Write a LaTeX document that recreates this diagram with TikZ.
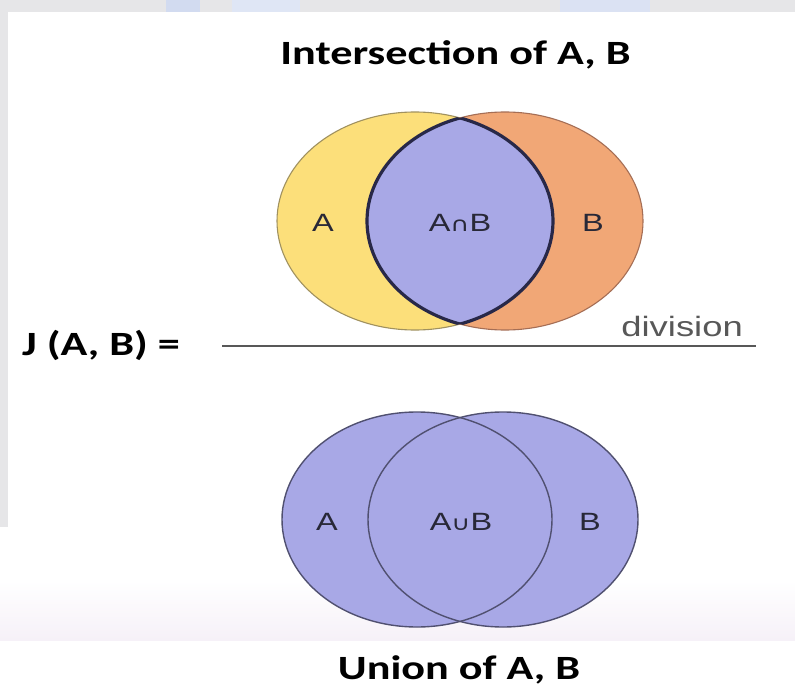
\documentclass[tikz,border=0pt]{standalone}
\usepackage{fontspec}
\setmainfont{Liberation Sans}
\newfontfamily\titlefont{Carlito}
\newfontfamily\symfont{DejaVu Sans}
\definecolor{margin}{RGB}{230,230,232}
\definecolor{wmblue}{RGB}{210,219,240}
\definecolor{bandc}{RGB}{246,241,248}
\definecolor{yel}{RGB}{252,223,122}
\definecolor{yelline}{RGB}{160,145,95}
\definecolor{ora}{RGB}{241,167,118}
\definecolor{oraline}{RGB}{165,110,85}
\definecolor{lav}{RGB}{168,168,230}
\definecolor{lensline}{RGB}{40,40,72}
\definecolor{uline}{RGB}{80,80,112}
\definecolor{lblc}{RGB}{40,40,55}
\definecolor{divc}{RGB}{88,88,88}
\tikzset{
  ttl/.style={font=\titlefont\bfseries\fontsize{34}{40}\selectfont, text=black, inner sep=0pt, anchor=base},
  lbl/.style={font=\fontsize{25}{29}\selectfont, text=lblc, inner sep=0pt, anchor=base},
  divtxt/.style={font=\fontsize{28}{32}\selectfont, text=divc, inner sep=0pt, anchor=base east},
}
\newcommand{\hs}[1]{\scalebox{1.3}[1]{#1}}
\begin{document}
\begin{tikzpicture}[x=1pt,y=-1pt]
\useasboundingbox (0,0) rectangle (795,687);
\fill[white] (0,0) rectangle (795,687);
% grey outer margin with faint watermark
\fill[margin] (0,0) rectangle (795,12);
\fill[margin] (0,0) rectangle (8,527);
\fill[wmblue] (166,0) rectangle (200,12);
\fill[wmblue!70] (232,0) rectangle (300,12);
\fill[wmblue!80] (560,0) rectangle (650,12);
% light band near the bottom
\shade[top color=white, bottom color=bandc] (0,580) rectangle (795,640);

% ---------- intersection ----------
\fill[yel] (415,221) ellipse [x radius=138, y radius=109];
\fill[ora] (505,221) ellipse [x radius=138, y radius=109];
\draw[yelline, line width=1.1pt] (415,221) ellipse [x radius=138, y radius=109];
\draw[oraline, line width=1.1pt] (505,221) ellipse [x radius=138, y radius=109];
\begin{scope}
  \clip (415,221) ellipse [x radius=138, y radius=109];
  \fill[lav] (505,221) ellipse [x radius=138, y radius=109];
  \draw[lensline, line width=3.2pt] (505,221) ellipse [x radius=138, y radius=109];
\end{scope}
\begin{scope}
  \clip (505,221) ellipse [x radius=138, y radius=109];
  \draw[lensline, line width=3.2pt] (415,221) ellipse [x radius=138, y radius=109];
\end{scope}
\node[lbl] (ia) at (323,232) {\hs{A}};
\node[lbl] (iab) at (460,232) {\hs{A{\symfont\fontsize{20}{23}\selectfont ∩}B}};
\node[lbl] (ib) at (593,232) {\hs{B}};

% ---------- fraction ----------
\node[ttl, anchor=base west] (jab) at (22,355) {\scalebox{1.3}[1]{J (A, B) =}};
\coordinate (l1) at (222,346);
\coordinate (l2) at (756,346);
\draw[divc, line width=2.6pt] (l1) -- (l2);
\node[divtxt] (div) at (743,336) {\scalebox{1.3}[1]{division}};

% ---------- union ----------
\fill[lav] (417,519.5) ellipse [x radius=135, y radius=107.5];
\fill[lav] (503,519.5) ellipse [x radius=135, y radius=107.5];
\draw[uline, line width=1.4pt] (417,519.5) ellipse [x radius=135, y radius=107.5];
\draw[uline, line width=1.4pt] (503,519.5) ellipse [x radius=135, y radius=107.5];
\node[lbl] (ua) at (327,530) {\hs{A}};
\node[lbl] (uab) at (461,530) {\hs{A{\symfont\fontsize{20}{23}\selectfont ∪}B}};
\node[lbl] (ub) at (590,530) {\hs{B}};

% ---------- titles ----------
\node[ttl] (tint) at (455.5,65) {\hs{Intersection of A, B}};
\node[ttl] (tuni) at (459,679) {\hs{Union of A, B}};
\end{tikzpicture}
\end{document}
